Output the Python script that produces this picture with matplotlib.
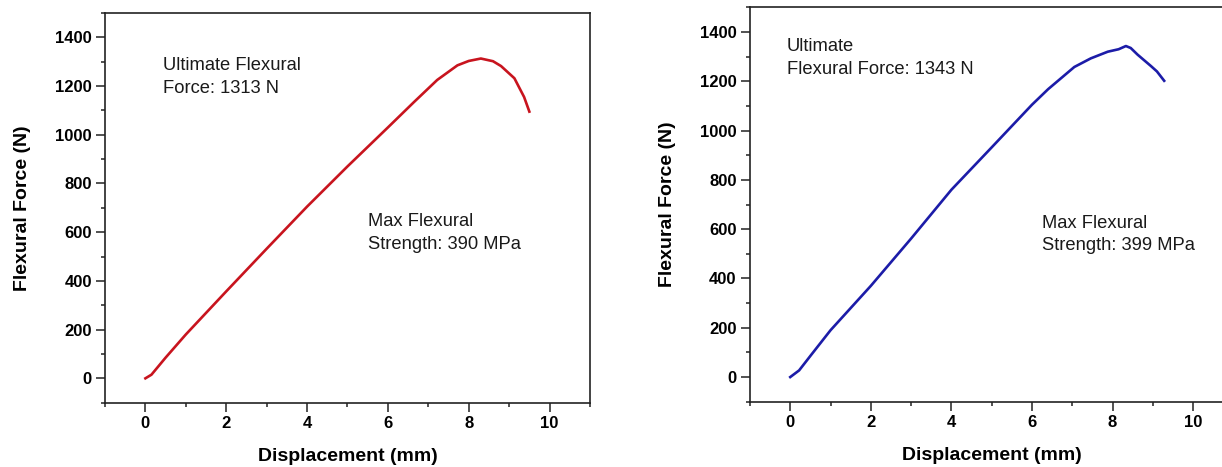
import matplotlib
matplotlib.use("Agg")
import matplotlib.pyplot as plt
from matplotlib.ticker import MultipleLocator

plt.rcParams['font.family'] = ['Liberation Sans', 'DejaVu Sans']

# Left specimen (red)
disp_left = [0, 0.15, 0.5, 1.0, 2.0, 3.0, 4.0, 5.0, 6.0, 6.65, 7.22, 7.72, 8.0, 8.3, 8.6, 8.8, 9.13, 9.37, 9.5]
force_left = [0, 15, 85, 180, 357, 532, 705, 870, 1030, 1135, 1225, 1285, 1303, 1313, 1302, 1282, 1232, 1155, 1095]

# Right specimen (blue)
disp_right = [0, 0.22, 0.51, 1.0, 2.0, 3.0, 4.0, 5.0, 6.0, 6.4, 7.05, 7.46, 7.88, 8.15, 8.33, 8.45, 8.62, 8.95, 9.1, 9.28]
force_right = [0, 27, 88, 190, 370, 562, 760, 932, 1105, 1168, 1258, 1293, 1320, 1330, 1343, 1335, 1308, 1262, 1240, 1202]

annot_left = ["Ultimate Flexural\nForce: 1313 N", "Max Flexural\nStrength: 390 MPa"]
annot_right = ["Ultimate\nFlexural Force: 1343 N", "Max Flexural\nStrength: 399 MPa"]

fig = plt.figure(figsize=(12.22, 4.67), dpi=100)
ax1 = fig.add_axes([0.0859, 0.1377, 0.3969, 0.8345])
ax2 = fig.add_axes([0.6137, 0.1398, 0.3957, 0.8445])


def style(ax):
    ax.set_xlim(-1, 11)
    ax.set_ylim(-100, 1500)
    ax.xaxis.set_major_locator(MultipleLocator(2))
    ax.xaxis.set_minor_locator(MultipleLocator(1))
    ax.yaxis.set_major_locator(MultipleLocator(200))
    ax.yaxis.set_minor_locator(MultipleLocator(100))
    ax.set_yticks(range(0, 1401, 200))
    ax.tick_params(which='both', direction='out', top=False, right=False, width=1.1, color='#222222')
    ax.tick_params(which='major', length=6.5)
    ax.tick_params(which='minor', length=3)
    ax.tick_params(axis='y', which='major', pad=3)
    ax.tick_params(axis='x', which='major', pad=3)
    for lab in ax.get_xticklabels() + ax.get_yticklabels():
        lab.set_fontweight('bold')
        lab.set_fontsize(12)
    for sp in ax.spines.values():
        sp.set_linewidth(1.2)
        sp.set_color('#222222')
    ax.set_xlabel("Displacement (mm)", fontsize=14, fontweight='bold', labelpad=12)
    ax.set_ylabel("Flexural Force (N)", fontsize=14, fontweight='bold', labelpad=17)


style(ax1)
style(ax2)

ax1.plot(disp_left, force_left, color='#c8141e', lw=1.9, solid_joinstyle='round')
ax2.plot(disp_right, force_right, color='#1c1ca8', lw=1.9, solid_joinstyle='round')

kw = dict(fontsize=13.2, color='#1a1a1a', va='baseline', ha='left', linespacing=1.45)
ax1.text(0.43, 1172, annot_left[0], **kw)
ax1.text(5.5, 533, annot_left[1], **kw)
ax2.text(-0.08, 1231, annot_right[0], **kw)
ax2.text(6.25, 514, annot_right[1], **kw)

fig.savefig("out.png", dpi=100)
